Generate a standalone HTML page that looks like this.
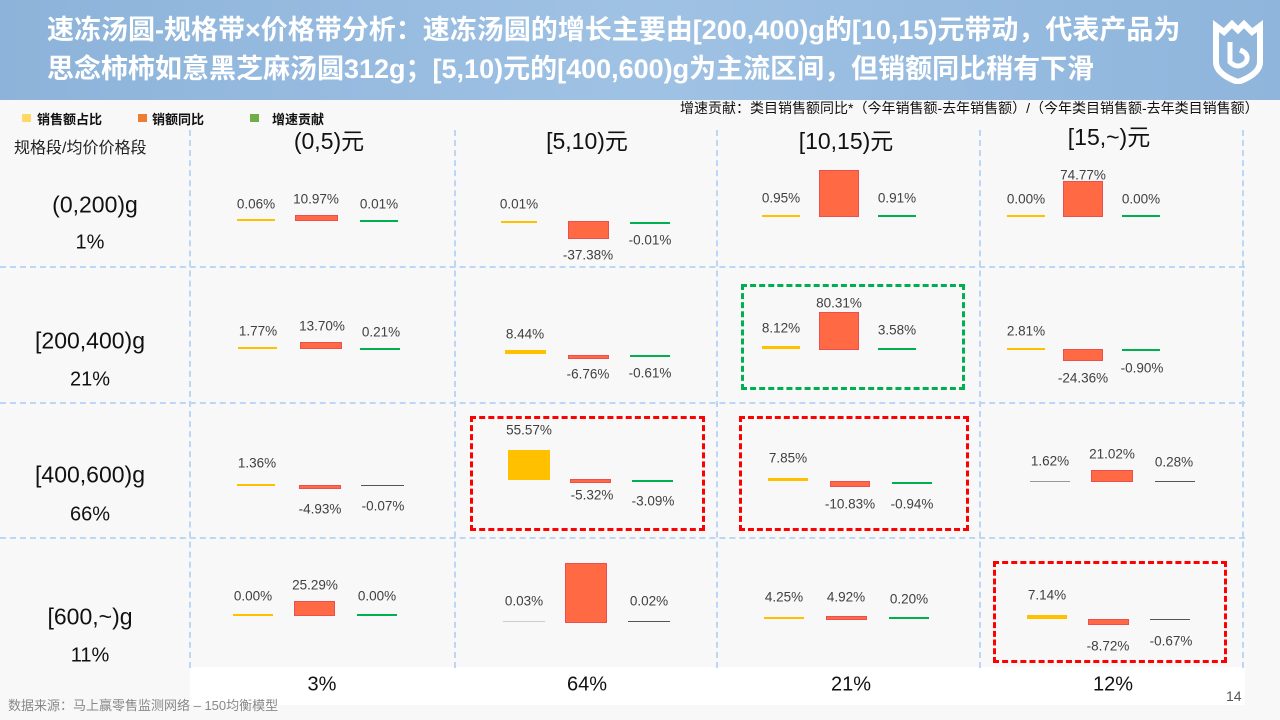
<!DOCTYPE html>
<html><head><meta charset="utf-8"><style>
*{margin:0;padding:0;box-sizing:border-box}
body{width:1280px;height:720px;overflow:hidden;background:#f8f8f8;font-family:"Liberation Sans","Noto Sans CJK SC",sans-serif;position:relative}
.a{position:absolute}
.t{position:absolute;transform:translate(-50%,-50%);white-space:nowrap;font-size:13.5px;color:#404040}
.y{position:absolute;height:2px;background:#ffc000}
.g{position:absolute;height:1.5px;background:#00b050}
.r{position:absolute;background:#ff6a45;border:1px solid #ea5050}
.vl{position:absolute;width:0;border-left:2px dashed #bcd7f5;top:130px;height:538px}
.hl{position:absolute;height:0;border-top:2px dashed #bcd7f5;left:0;width:1245px}
.big{position:absolute;transform:translate(-50%,-50%);white-space:nowrap;font-size:23px;color:#111}
.pc{position:absolute;transform:translate(-50%,-50%);white-space:nowrap;font-size:20px;color:#111}
.box{position:absolute;border:3px dashed}
</style></head><body>
<div class="a" style="left:0;top:0;width:1280px;height:100px;background:linear-gradient(90deg,#8db3da,#9fc2e4 50%,#8fb5dc)"></div>
<div class="a" style="left:47px;top:11px;color:#fff;font-weight:bold;font-size:27px;line-height:39px;white-space:nowrap">速冻汤圆-规格带×价格带分析：速冻汤圆的增长主要由[200,400)g的[10,15)元带动，代表产品为<br>思念柿柿如意黑芝麻汤圆312g；[5,10)元的[400,600)g为主流区间，但销额同比稍有下滑</div>
<svg class="a" style="left:1210px;top:18px" width="56" height="66" viewBox="0 0 56 66"><path d="M6 8 L14 14 L22 6 L28 12 L34 6 L42 14 L50 8 L50 44 Q50 56 28 64 Q6 56 6 44 Z" fill="none" stroke="#fff" stroke-width="6"/><path d="M20 24 L20 44 Q28 52 36 44 Q40 36 30 32" fill="none" stroke="#fff" stroke-width="5"/></svg>

<div class="a" style="left:22px;top:114px;width:9px;height:8px;background:#ffd966"></div>
<div class="a" style="left:37px;top:109px;font-size:13px;font-weight:bold;color:#111">销售额占比</div>
<div class="a" style="left:138px;top:114px;width:9px;height:8px;background:#ed7d31"></div>
<div class="a" style="left:152px;top:109px;font-size:13px;font-weight:bold;color:#111">销额同比</div>
<div class="a" style="left:250px;top:114px;width:9px;height:8px;background:#70ad47"></div>
<div class="a" style="left:272px;top:109px;font-size:13px;font-weight:bold;color:#111">增速贡献</div>
<div class="a" style="left:680px;top:98px;font-size:14px;color:#111;white-space:nowrap">增速贡献：类目销售额同比*（今年销售额-去年销售额）/（今年类目销售额-去年类目销售额）</div>
<div class="a" style="left:14px;top:134px;font-size:16px;color:#222">规格段/均价价格段</div>

<div class="a" style="left:190px;top:667px;width:1055px;height:38px;background:#fff"></div>
<div class="vl" style="left:189px"></div><div class="vl" style="left:454px"></div><div class="vl" style="left:716px"></div><div class="vl" style="left:979px"></div><div class="vl" style="left:1242px"></div>
<div class="hl" style="top:266px"></div><div class="hl" style="top:402px"></div><div class="hl" style="top:537px"></div>

<div class="big" style="left:329px;top:139px">(0,5)元</div>
<div class="big" style="left:587px;top:139px">[5,10)元</div>
<div class="big" style="left:846px;top:139px">[10,15)元</div>
<div class="big" style="left:1109px;top:135px">[15,~)元</div>

<div class="big" style="left:95px;top:205px">(0,200)g</div><div class="pc" style="left:90px;top:243px">1%</div>
<div class="big" style="left:90px;top:341px">[200,400)g</div><div class="pc" style="left:90px;top:380px">21%</div>
<div class="big" style="left:90px;top:475px">[400,600)g</div><div class="pc" style="left:90px;top:515px">66%</div>
<div class="big" style="left:90px;top:617px">[600,~)g</div><div class="pc" style="left:90px;top:656px">11%</div>

<div class="pc" style="left:322px;top:685px">3%</div>
<div class="pc" style="left:587px;top:685px">64%</div>
<div class="pc" style="left:851px;top:685px">21%</div>
<div class="pc" style="left:1113px;top:685px">12%</div>
<div class="a" style="left:8px;top:695px;font-size:13px;color:#888">数据来源：马上赢零售监测网络 – 150均衡模型</div>
<div class="a" style="left:1226px;top:688px;font-size:14px;color:#555">14</div>

<!-- Row1 -->
<div class="y" style="left:237px;top:219px;width:38px;height:1.5px"></div><div class="t" style="left:256px;top:204px">0.06%</div>
<div class="r" style="left:295px;top:215px;width:43px;height:6px"></div><div class="t" style="left:316px;top:199px">10.97%</div>
<div class="g" style="left:360px;top:220px;width:38px"></div><div class="t" style="left:379px;top:204px">0.01%</div>
<div class="y" style="left:501px;top:221px;width:36px;height:1.5px"></div><div class="t" style="left:519px;top:204px">0.01%</div>
<div class="r" style="left:568px;top:221px;width:41px;height:18px"></div><div class="t" style="left:588px;top:255px">-37.38%</div>
<div class="g" style="left:630px;top:222px;width:40px"></div><div class="t" style="left:650px;top:240px">-0.01%</div>
<div class="y" style="left:762px;top:215px;width:38px;height:1.5px"></div><div class="t" style="left:781px;top:198px">0.95%</div>
<div class="r" style="left:819px;top:170px;width:40px;height:47px"></div>
<div class="g" style="left:878px;top:215px;width:38px"></div><div class="t" style="left:897px;top:198px">0.91%</div>
<div class="y" style="left:1007px;top:215px;width:38px;height:1.5px"></div><div class="t" style="left:1026px;top:199px">0.00%</div>
<div class="r" style="left:1063px;top:181px;width:40px;height:36px"></div><div class="t" style="left:1083px;top:175px">74.77%</div>
<div class="g" style="left:1122px;top:215px;width:38px"></div><div class="t" style="left:1141px;top:199px">0.00%</div>

<!-- Row2 -->
<div class="y" style="left:238px;top:347px;width:39px;height:1.5px"></div><div class="t" style="left:258px;top:331px">1.77%</div>
<div class="r" style="left:300px;top:342px;width:42px;height:7px"></div><div class="t" style="left:322px;top:326px">13.70%</div>
<div class="g" style="left:360px;top:348px;width:40px"></div><div class="t" style="left:381px;top:332px">0.21%</div>
<div class="y" style="left:505px;top:350px;width:41px;height:4px"></div><div class="t" style="left:525px;top:334px">8.44%</div>
<div class="r" style="left:568px;top:355px;width:41px;height:4px"></div><div class="t" style="left:588px;top:374px">-6.76%</div>
<div class="g" style="left:630px;top:355px;width:40px"></div><div class="t" style="left:650px;top:373px">-0.61%</div>
<div class="y" style="left:762px;top:346px;width:38px;height:3px"></div><div class="t" style="left:781px;top:328px">8.12%</div>
<div class="r" style="left:819px;top:312px;width:40px;height:38px"></div><div class="t" style="left:839px;top:303px">80.31%</div>
<div class="g" style="left:878px;top:348px;width:38px"></div><div class="t" style="left:897px;top:330px">3.58%</div>
<div class="y" style="left:1007px;top:348px;width:38px;height:1.5px"></div><div class="t" style="left:1026px;top:331px">2.81%</div>
<div class="r" style="left:1063px;top:349px;width:40px;height:12px"></div><div class="t" style="left:1083px;top:378px">-24.36%</div>
<div class="g" style="left:1122px;top:349px;width:38px"></div><div class="t" style="left:1142px;top:368px">-0.90%</div>

<!-- Row3 -->
<div class="y" style="left:237px;top:484px;width:38px;height:1.5px"></div><div class="t" style="left:257px;top:463px">1.36%</div>
<div class="r" style="left:299px;top:485px;width:42px;height:4px"></div><div class="t" style="left:320px;top:509px">-4.93%</div>
<div class="a" style="left:361px;top:485px;width:43px;height:1px;background:#555"></div><div class="t" style="left:383px;top:506px">-0.07%</div>
<div class="a" style="left:508px;top:450px;width:42px;height:30px;background:#ffc000"></div><div class="t" style="left:529px;top:430px">55.57%</div>
<div class="r" style="left:570px;top:479px;width:41px;height:4px"></div><div class="t" style="left:592px;top:495px">-5.32%</div>
<div class="g" style="left:632px;top:480px;width:41px"></div><div class="t" style="left:653px;top:501px">-3.09%</div>
<div class="y" style="left:768px;top:478px;width:40px;height:3px"></div><div class="t" style="left:788px;top:458px">7.85%</div>
<div class="r" style="left:830px;top:481px;width:40px;height:6px"></div><div class="t" style="left:850px;top:504px">-10.83%</div>
<div class="g" style="left:892px;top:482px;width:40px"></div><div class="t" style="left:912px;top:504px">-0.94%</div>
<div class="a" style="left:1030px;top:481px;width:40px;height:1px;background:#999"></div><div class="t" style="left:1050px;top:461px">1.62%</div>
<div class="r" style="left:1091px;top:470px;width:42px;height:12px"></div><div class="t" style="left:1112px;top:454px">21.02%</div>
<div class="a" style="left:1155px;top:481px;width:40px;height:1px;background:#555"></div><div class="t" style="left:1174px;top:462px">0.28%</div>

<!-- Row4 -->
<div class="y" style="left:233px;top:614px;width:40px;height:1.5px"></div><div class="t" style="left:253px;top:596px">0.00%</div>
<div class="r" style="left:294px;top:601px;width:41px;height:15px"></div><div class="t" style="left:315px;top:585px">25.29%</div>
<div class="g" style="left:357px;top:614px;width:40px"></div><div class="t" style="left:377px;top:596px">0.00%</div>
<div class="y" style="left:503px;top:621px;width:42px;height:1px;background:#ccc"></div><div class="t" style="left:524px;top:601px">0.03%</div>
<div class="r" style="left:565px;top:563px;width:42px;height:60px"></div>
<div class="a" style="left:628px;top:621px;width:42px;height:1px;background:#555"></div><div class="t" style="left:649px;top:601px">0.02%</div>
<div class="y" style="left:764px;top:617px;width:40px;height:1.5px"></div><div class="t" style="left:784px;top:597px">4.25%</div>
<div class="r" style="left:826px;top:616px;width:41px;height:4px"></div><div class="t" style="left:846px;top:597px">4.92%</div>
<div class="g" style="left:889px;top:617px;width:40px"></div><div class="t" style="left:909px;top:599px">0.20%</div>
<div class="y" style="left:1027px;top:615px;width:40px;height:4px"></div><div class="t" style="left:1047px;top:595px">7.14%</div>
<div class="r" style="left:1088px;top:619px;width:41px;height:6px"></div><div class="t" style="left:1108px;top:646px">-8.72%</div>
<div class="a" style="left:1150px;top:619px;width:40px;height:1px;background:#555"></div><div class="t" style="left:1171px;top:641px">-0.67%</div>

<div class="box" style="left:741px;top:284px;width:224px;height:106px;border-color:#00b050"></div>
<div class="box" style="left:470px;top:416px;width:235px;height:115px;border-color:#f00"></div>
<div class="box" style="left:739px;top:416px;width:230px;height:115px;border-color:#f00"></div>
<div class="box" style="left:993px;top:561px;width:234px;height:102px;border-color:#f00"></div>
</body></html>
